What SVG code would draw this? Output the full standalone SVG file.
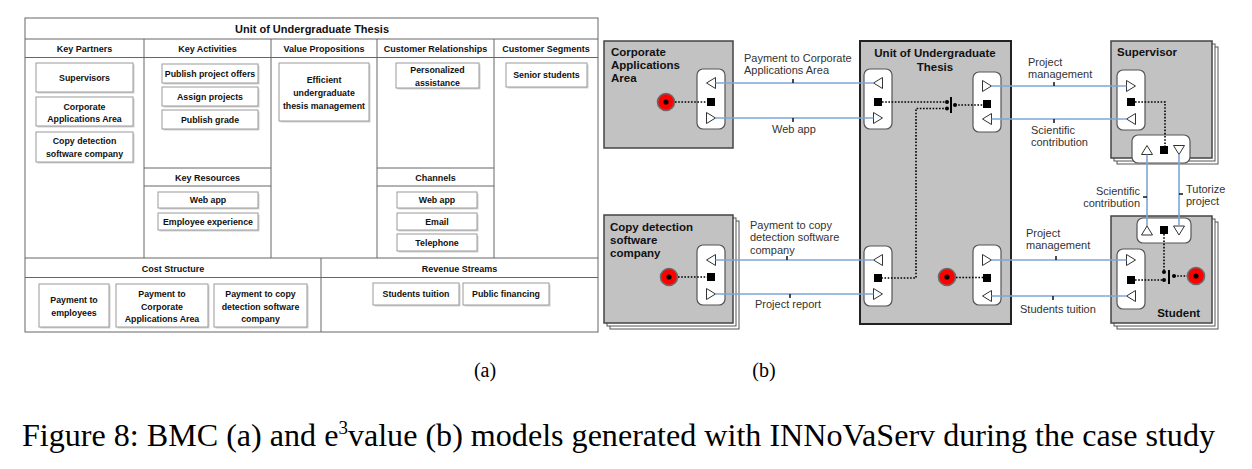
<svg xmlns="http://www.w3.org/2000/svg" width="1252" height="469" viewBox="0 0 1252 469">
<style>
.bg{fill:#fff}
.grid{fill:none;stroke:#666;stroke-width:1}
.item{fill:#fff;stroke:#9a9a9a;stroke-width:1}
.shadow{fill:#d2d2d2}
.bt{font-family:"Liberation Sans",Arial,sans-serif;font-weight:bold;fill:#111;text-anchor:middle}
.bt1{font-size:11px}
.bh{font-size:9px}
.bi{font-size:8.8px}
.actor{fill:#c2c2c2;stroke:#444;stroke-width:1.5}
.stack{fill:#fff;stroke:#555;stroke-width:1}
.uut{fill:#c2c2c2;stroke:#222;stroke-width:2}
.iface{fill:#fff;stroke:#555;stroke-width:1.2}
.port{fill:#fff;stroke:#333;stroke-width:1}
.vo{fill:#000}
.at{font-family:"Liberation Sans",Arial,sans-serif;font-weight:bold;font-size:11.5px;fill:#111}
.lbl{font-family:"Liberation Sans",Arial,sans-serif;font-size:11px;fill:#333}
.conn{fill:none;stroke:#7ea6d8;stroke-width:1.6}
.tick{stroke:#111;stroke-width:1.5}
.dot{fill:none;stroke:#000;stroke-width:1.6;stroke-dasharray:1.6 1.6}
.cap{font-family:"Liberation Serif","Times New Roman",serif;fill:#000}
</style>
<defs>
<path id="tl" class="port" d="M-4.5,0 L4.5,-5.5 L4.5,5.5 Z"/>
<path id="tr" class="port" d="M4.5,0 L-4.5,-5.5 L-4.5,5.5 Z"/>
<path id="tu" class="port" d="M0,-4.5 L-5.5,4.5 L5.5,4.5 Z"/>
<path id="td" class="port" d="M0,4.5 L-5.5,-4.5 L5.5,-4.5 Z"/>
<rect id="sq" class="vo" x="-4" y="-4" width="8" height="8"/>
<g id="stim"><circle r="8.5" fill="#f00" stroke="#6a6a6a" stroke-width="1.6"/><circle r="2.6" fill="#000"/></g>
<circle id="jd" r="2" fill="#000"/>
</defs>
<rect class="bg" x="0" y="0" width="1252" height="469"/>

<!-- ================= BMC (a) ================= -->
<g id="bmc">
<rect class="grid" x="25" y="18" width="573" height="314"/>
<line class="grid" x1="25" y1="39" x2="598" y2="39"/>
<line class="grid" x1="25" y1="57.5" x2="598" y2="57.5"/>
<line class="grid" x1="144" y1="39" x2="144" y2="258"/>
<line class="grid" x1="271" y1="39" x2="271" y2="258"/>
<line class="grid" x1="377" y1="39" x2="377" y2="258"/>
<line class="grid" x1="494" y1="39" x2="494" y2="258"/>
<line class="grid" x1="144" y1="168" x2="271" y2="168"/>
<line class="grid" x1="144" y1="186" x2="271" y2="186"/>
<line class="grid" x1="377" y1="168" x2="494" y2="168"/>
<line class="grid" x1="377" y1="186" x2="494" y2="186"/>
<line class="grid" x1="25" y1="258" x2="598" y2="258"/>
<line class="grid" x1="25" y1="277.5" x2="598" y2="277.5"/>
<line class="grid" x1="321" y1="258" x2="321" y2="332"/>
<text class="bt bt1" x="312" y="33">Unit of Undergraduate Thesis</text>
</g>

<g id="key-partners">
<text class="bt bh" x="84.5" y="51.5">Key Partners</text>
<g id="kp-supervisors"><rect class="shadow" x="37.5" y="64.5" width="97" height="29"/><rect class="item" x="36" y="63" width="97" height="29"/><text class="bt bi" x="84.5" y="80.5">Supervisors</text></g>
<g id="kp-corporate"><rect class="shadow" x="37.5" y="98.5" width="97" height="29"/><rect class="item" x="36" y="97" width="97" height="29"/><text class="bt bi" x="84.5" y="110">Corporate</text><text class="bt bi" x="84.5" y="122">Applications Area</text></g>
<g id="kp-copy"><rect class="shadow" x="37.5" y="133.5" width="97" height="30"/><rect class="item" x="36" y="132" width="97" height="30"/><text class="bt bi" x="84.5" y="144">Copy detection</text><text class="bt bi" x="84.5" y="156.5">software company</text></g>
</g>

<g id="key-activities">
<text class="bt bh" x="207.5" y="51.5">Key Activities</text>
<g id="ka-publish-offers"><rect class="shadow" x="163.5" y="65.5" width="96" height="19"/><rect class="item" x="162" y="64" width="96" height="19"/><text class="bt bi" x="210" y="76.8">Publish project offers</text></g>
<g id="ka-assign"><rect class="shadow" x="163.5" y="88.5" width="96" height="19"/><rect class="item" x="162" y="87" width="96" height="19"/><text class="bt bi" x="210" y="99.8">Assign projects</text></g>
<g id="ka-grade"><rect class="shadow" x="163.5" y="111.5" width="96" height="19"/><rect class="item" x="162" y="110" width="96" height="19"/><text class="bt bi" x="210" y="122.8">Publish grade</text></g>
</g>

<g id="key-resources">
<text class="bt bh" x="207.5" y="181">Key Resources</text>
<g id="kr-webapp"><rect class="shadow" x="159.5" y="193.5" width="100" height="16"/><rect class="item" x="158" y="192" width="100" height="16"/><text class="bt bi" x="208" y="203.3">Web app</text></g>
<g id="kr-experience"><rect class="shadow" x="159.5" y="214.5" width="100" height="17"/><rect class="item" x="158" y="213" width="100" height="17"/><text class="bt bi" x="208" y="224.8">Employee experience</text></g>
</g>

<g id="value-propositions">
<text class="bt bh" x="324" y="51.5">Value Propositions</text>
<g id="vp-efficient"><rect class="shadow" x="280.5" y="64.5" width="90" height="58"/><rect class="item" x="279" y="63" width="90" height="58"/><text class="bt bi" x="324" y="83">Efficient</text><text class="bt bi" x="324" y="96">undergraduate</text><text class="bt bi" x="324" y="109">thesis management</text></g>
</g>

<g id="customer-relationships">
<text class="bt bh" x="435.5" y="51.5">Customer Relationships</text>
<g id="cr-assistance"><rect class="shadow" x="397.5" y="64.5" width="83" height="25"/><rect class="item" x="396" y="63" width="83" height="25"/><text class="bt bi" x="437.5" y="73">Personalized</text><text class="bt bi" x="437.5" y="85.5">assistance</text></g>
</g>

<g id="channels">
<text class="bt bh" x="435.5" y="181">Channels</text>
<g id="ch-webapp"><rect class="shadow" x="398.5" y="193.5" width="80" height="16"/><rect class="item" x="397" y="192" width="80" height="16"/><text class="bt bi" x="437" y="203.3">Web app</text></g>
<g id="ch-email"><rect class="shadow" x="398.5" y="214.5" width="80" height="17"/><rect class="item" x="397" y="213" width="80" height="17"/><text class="bt bi" x="437" y="224.8">Email</text></g>
<g id="ch-telephone"><rect class="shadow" x="398.5" y="235.5" width="80" height="17"/><rect class="item" x="397" y="234" width="80" height="17"/><text class="bt bi" x="437" y="245.8">Telephone</text></g>
</g>

<g id="customer-segments">
<text class="bt bh" x="546" y="51.5">Customer Segments</text>
<g id="cs-senior"><rect class="shadow" x="507.5" y="64.5" width="81" height="24"/><rect class="item" x="506" y="63" width="81" height="24"/><text class="bt bi" x="546.5" y="78.3">Senior students</text></g>
</g>

<g id="cost-structure">
<text class="bt bh" x="173" y="272">Cost Structure</text>
<g id="cost-employees"><rect class="shadow" x="40.5" y="285.5" width="70" height="43"/><rect class="item" x="39" y="284" width="70" height="43"/><text class="bt bi" x="74" y="303">Payment to</text><text class="bt bi" x="74" y="316">employees</text></g>
<g id="cost-corporate"><rect class="shadow" x="117.5" y="285.5" width="92" height="43"/><rect class="item" x="116" y="284" width="92" height="43"/><text class="bt bi" x="162" y="297">Payment to</text><text class="bt bi" x="162" y="309.5">Corporate</text><text class="bt bi" x="162" y="322">Applications Area</text></g>
<g id="cost-copy"><rect class="shadow" x="215.5" y="285.5" width="93" height="43"/><rect class="item" x="214" y="284" width="93" height="43"/><text class="bt bi" x="260.5" y="297">Payment to copy</text><text class="bt bi" x="260.5" y="309.5">detection software</text><text class="bt bi" x="260.5" y="322">company</text></g>
</g>

<g id="revenue-streams">
<text class="bt bh" x="459.5" y="272">Revenue Streams</text>
<g id="rs-tuition"><rect class="shadow" x="374.5" y="284.5" width="86" height="22"/><rect class="item" x="373" y="283" width="86" height="22"/><text class="bt bi" x="416" y="297.3">Students tuition</text></g>
<g id="rs-public"><rect class="shadow" x="464.5" y="284.5" width="86" height="22"/><rect class="item" x="463" y="283" width="86" height="22"/><text class="bt bi" x="506" y="297.3">Public financing</text></g>
</g>

<!-- ================= e3value (b) ================= -->
<g id="actor-corporate">
<rect class="actor" x="604" y="41" width="129" height="107"/>
<text class="at" x="611" y="56">Corporate</text>
<text class="at" x="611" y="69">Applications</text>
<text class="at" x="611" y="82">Area</text>
<g id="if-corporate">
<rect class="iface" x="697" y="69" width="28" height="60" rx="6"/>
<use href="#tl" x="711" y="83"/>
<use href="#sq" x="711" y="102"/>
<use href="#tr" x="711" y="118"/>
</g>
<use href="#stim" x="666" y="102"/>
</g>

<g id="actor-copy">
<rect class="stack" x="610" y="221" width="129" height="108"/>
<rect class="stack" x="607" y="218" width="129" height="108"/>
<rect class="actor" x="604" y="215" width="129" height="108"/>
<text class="at" x="610" y="231">Copy detection</text>
<text class="at" x="610" y="244">software</text>
<text class="at" x="610" y="257">company</text>
<g id="if-copy">
<rect class="iface" x="697" y="245" width="28" height="60" rx="6"/>
<use href="#tl" x="711" y="260"/>
<use href="#sq" x="711" y="277"/>
<use href="#tr" x="711" y="294"/>
</g>
<use href="#stim" x="669" y="277"/>
</g>

<g id="actor-uut">
<rect class="uut" x="860" y="41" width="151" height="283"/>
<text class="at" x="935" y="57" text-anchor="middle">Unit of Undergraduate</text>
<text class="at" x="935" y="71" text-anchor="middle">Thesis</text>
<g id="if-uut-corporate">
<rect class="iface" x="864" y="69" width="28" height="60" rx="6"/>
<use href="#tl" x="878" y="83"/>
<use href="#sq" x="878" y="102"/>
<use href="#tr" x="878" y="118"/>
</g>
<g id="if-uut-supervisor">
<rect class="iface" x="973" y="72" width="28" height="60" rx="6"/>
<use href="#tr" x="987" y="86"/>
<use href="#sq" x="987" y="104"/>
<use href="#tl" x="987" y="119"/>
</g>
<g id="if-uut-copy">
<rect class="iface" x="864" y="246" width="28" height="60" rx="6"/>
<use href="#tl" x="878" y="260"/>
<use href="#sq" x="878" y="278"/>
<use href="#tr" x="878" y="294"/>
</g>
<g id="if-uut-student">
<rect class="iface" x="973" y="245" width="28" height="60" rx="6"/>
<use href="#tr" x="987" y="260"/>
<use href="#sq" x="987" y="278"/>
<use href="#tl" x="987" y="296"/>
</g>
<use href="#stim" x="947" y="277"/>
</g>

<g id="actor-supervisor">
<rect class="stack" x="1117" y="47" width="101" height="117"/>
<rect class="stack" x="1114" y="44" width="101" height="117"/>
<rect class="actor" x="1111" y="41" width="101" height="117"/>
<text class="at" x="1117" y="56">Supervisor</text>
<g id="if-supervisor-uut">
<rect class="iface" x="1117" y="70" width="28" height="60" rx="6"/>
<use href="#tr" x="1131" y="86"/>
<use href="#sq" x="1131" y="102"/>
<use href="#tl" x="1131" y="119"/>
</g>
<g id="if-supervisor-student">
<rect class="iface" x="1132" y="135" width="58" height="28" rx="6"/>
<use href="#tu" x="1147" y="150"/>
<use href="#sq" x="1164" y="150"/>
<use href="#td" x="1179" y="150"/>
</g>
</g>

<g id="actor-student">
<rect class="stack" x="1117" y="222" width="101" height="107"/>
<rect class="stack" x="1114" y="219" width="101" height="107"/>
<rect class="actor" x="1111" y="216" width="101" height="107"/>
<text class="at" x="1200" y="317" text-anchor="end">Student</text>
<g id="if-student-supervisor">
<rect class="iface" x="1137" y="218" width="54" height="25" rx="6"/>
<use href="#tu" x="1147" y="230.5"/>
<use href="#sq" x="1164" y="230"/>
<use href="#td" x="1179" y="230.5"/>
</g>
<g id="if-student-uut">
<rect class="iface" x="1117" y="249" width="28" height="60" rx="6"/>
<use href="#tr" x="1131" y="260"/>
<use href="#sq" x="1131" y="280"/>
<use href="#tl" x="1131" y="296"/>
</g>
<use href="#stim" x="1196" y="276"/>
</g>

<g id="connectors">
<!-- dependency paths -->
<path class="dot" d="M675,102 H707"/>
<path class="dot" d="M678,277 H707"/>
<path class="dot" d="M882,102 H947"/>
<path class="dot" d="M947,108.5 H916 V278 H882"/>
<path class="dot" d="M955,105 H983"/>
<line x1="951" y1="97" x2="951" y2="113" stroke="#000" stroke-width="2"/>
<use href="#jd" x="947" y="102"/>
<use href="#jd" x="947" y="108.5"/>
<use href="#jd" x="955" y="105"/>
<path class="dot" d="M956,277.5 H983"/>
<path class="dot" d="M1135,102 H1165 V146"/>
<path class="dot" d="M1164,234 V272"/>
<path class="dot" d="M1135,280 H1164"/>
<line x1="1169" y1="270" x2="1169" y2="284" stroke="#000" stroke-width="2"/>
<use href="#jd" x="1164" y="272"/>
<use href="#jd" x="1164" y="280"/>
<use href="#jd" x="1174" y="276"/>
<path class="dot" d="M1174,276 H1187"/>

<!-- value exchanges -->
<line class="conn" x1="715.5" y1="83" x2="873.5" y2="83"/>
<line class="conn" x1="715.5" y1="118" x2="873.5" y2="118"/>
<line class="conn" x1="715.5" y1="260" x2="873.5" y2="260"/>
<line class="conn" x1="715.5" y1="294" x2="873.5" y2="294"/>
<line class="conn" x1="991.5" y1="86" x2="1126.5" y2="86"/>
<line class="conn" x1="991.5" y1="119" x2="1126.5" y2="119"/>
<line class="conn" x1="991.5" y1="260" x2="1126.5" y2="260"/>
<line class="conn" x1="991.5" y1="296" x2="1126.5" y2="296"/>
<line class="conn" x1="1147" y1="154.5" x2="1147" y2="226"/>
<line class="conn" x1="1179" y1="154.5" x2="1179" y2="226"/>

<line class="tick" x1="793" y1="79" x2="793" y2="83"/>
<line class="tick" x1="793" y1="118" x2="793" y2="122"/>
<line class="tick" x1="787" y1="256" x2="787" y2="260"/>
<line class="tick" x1="790" y1="294" x2="790" y2="298"/>
<line class="tick" x1="1054" y1="82" x2="1054" y2="86"/>
<line class="tick" x1="1054" y1="119" x2="1054" y2="123"/>
<line class="tick" x1="1056" y1="256" x2="1056" y2="260"/>
<line class="tick" x1="1053" y1="296" x2="1053" y2="300"/>
<line class="tick" x1="1143" y1="197" x2="1147" y2="197"/>
<line class="tick" x1="1179" y1="194" x2="1183" y2="194"/>

<text class="lbl" x="744" y="62">Payment to Corporate</text>
<text class="lbl" x="744" y="74">Applications Area</text>
<text class="lbl" x="772" y="133">Web app</text>
<text class="lbl" x="750" y="229">Payment to copy</text>
<text class="lbl" x="750" y="241">detection software</text>
<text class="lbl" x="750" y="254">company</text>
<text class="lbl" x="755" y="308">Project report</text>
<text class="lbl" x="1028" y="66">Project</text>
<text class="lbl" x="1028" y="78">management</text>
<text class="lbl" x="1031" y="134">Scientific</text>
<text class="lbl" x="1031" y="146">contribution</text>
<text class="lbl" x="1026" y="237">Project</text>
<text class="lbl" x="1026" y="249">management</text>
<text class="lbl" x="1020" y="313">Students tuition</text>
<text class="lbl" x="1140" y="195" text-anchor="end">Scientific</text>
<text class="lbl" x="1140" y="207" text-anchor="end">contribution</text>
<text class="lbl" x="1186" y="193">Tutorize</text>
<text class="lbl" x="1186" y="205">project</text>
</g>

<g id="captions">
<text class="cap" x="485" y="377" font-size="20" text-anchor="middle">(a)</text>
<text class="cap" x="764" y="377" font-size="20" text-anchor="middle">(b)</text>
<text class="cap" x="22" y="446" font-size="32" textLength="1193" lengthAdjust="spacingAndGlyphs">Figure 8: BMC (a) and e<tspan font-size="19" dy="-12">3</tspan><tspan dy="12">value (b) models generated with INNoVaServ during the case study</tspan></text>
</g>
</svg>
